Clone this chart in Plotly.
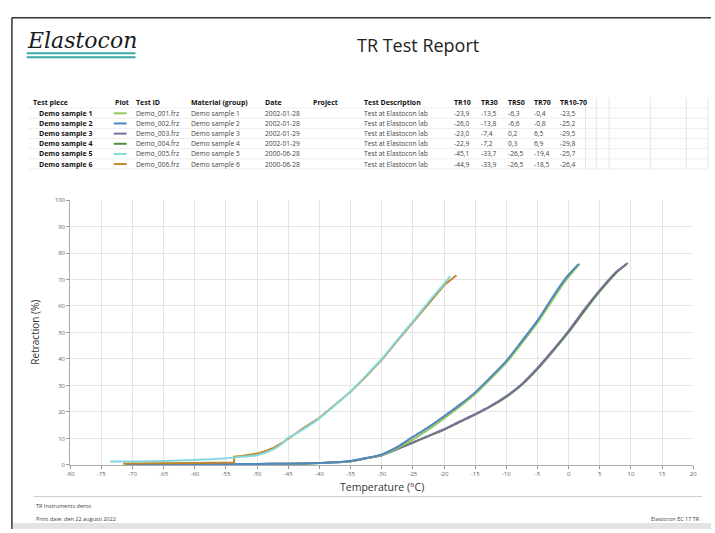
import plotly.graph_objects as go

W, H = 715, 533

# ---------------- data ----------------
sample_names = ["Demo sample 1", "Demo sample 2", "Demo sample 3",
                "Demo sample 4", "Demo sample 5", "Demo sample 6"]
test_ids = ["Demo_001.frz", "Demo_002.frz", "Demo_003.frz",
            "Demo_004.frz", "Demo_005.frz", "Demo_006.frz"]
materials = ["Demo sample 1", "Demo sample 2", "Demo sample 3",
             "Demo sample 4", "Demo sample 5", "Demo sample 6"]
dates = ["2002-01-28", "2002-01-28", "2002-01-29",
         "2002-01-29", "2000-06-28", "2000-06-28"]
descriptions = ["Test at Elastocon lab"] * 6
tr10 = ["-23,9", "-26,0", "-23,0", "-22,9", "-45,1", "-44,9"]
tr30 = ["-13,5", "-13,8", "-7,4", "-7,2", "-33,7", "-33,9"]
tr50 = ["-6,3", "-6,6", "0,2", "0,3", "-26,5", "-26,5"]
tr70 = ["-0,4", "-0,8", "6,5", "6,9", "-19,4", "-18,5"]
tr10_70 = ["-23,5", "-25,2", "-29,5", "-29,8", "-25,7", "-26,4"]

colors = ["#95c75a", "#4f86c6", "#7a6f9b", "#4b8f3c", "#86d8df", "#c0862a"]

T1 = [-71.4, -65, -60, -55, -50, -45, -40, -37.5, -35, -32.5, -30, -27.5, -25, -22.5,
      -20, -17.5, -15, -12.5, -10, -7.5, -5, -2.5, -1, 0, 1.8]
R1 = [0.4, 0.4, 0.4, 0.4, 0.4, 0.5, 0.7, 1.0, 1.4, 2.5, 3.8, 6.4, 9.6, 13.4,
      17.6, 22.0, 26.8, 32.5, 38.6, 46.0, 53.7, 62.6, 67.9, 71.0, 76.0]

T2 = [-71.0, -65, -60, -55, -50, -45, -40, -37.5, -35, -32.5, -30, -27.5, -25, -22.5,
      -20, -17.5, -15, -12.5, -10, -7.5, -5, -2.5, -1, 0, 1.6]
R2 = [0.4, 0.4, 0.4, 0.4, 0.4, 0.5, 0.7, 1.0, 1.5, 2.6, 4.0, 6.8, 10.6, 14.3,
      18.4, 22.7, 27.4, 33.2, 39.3, 46.8, 54.5, 63.6, 68.8, 71.8, 75.8]

T3 = [-71.0, -65, -60, -55, -50, -45, -40, -37.5, -35, -32.5, -30, -27.5, -25, -22.5,
      -20, -17.5, -15, -12.5, -10, -7.5, -5, -2.5, 0, 2.5, 5, 7.5, 9.3]
R3 = [0.4, 0.4, 0.4, 0.4, 0.4, 0.5, 0.7, 1.0, 1.4, 2.5, 3.7, 6.0, 8.5, 11.0,
      13.5, 16.4, 19.2, 22.3, 26.0, 30.6, 36.6, 43.4, 50.6, 58.6, 66.0, 72.6, 75.8]

T4 = [-71.4, -65, -60, -55, -50, -45, -40, -37.5, -35, -32.5, -30, -27.5, -25, -22.5,
      -20, -17.5, -15, -12.5, -10, -7.5, -5, -2.5, 0, 2.5, 5, 7.5, 9.5]
R4 = [0.4, 0.4, 0.4, 0.4, 0.4, 0.5, 0.7, 1.0, 1.4, 2.5, 3.7, 6.0, 8.4, 10.9,
      13.3, 16.2, 19.0, 22.1, 25.7, 30.3, 36.2, 43.0, 50.1, 58.0, 65.5, 72.2, 76.2]

T5 = [-73.6, -70, -65, -60, -57, -55, -52.5, -50, -47.5, -46, -45, -44, -42.5,
      -40, -37.5, -35, -32.5, -30, -27.5, -25, -22.5, -20, -19]
R5 = [1.3, 1.3, 1.5, 1.9, 2.2, 2.5, 3.1, 3.7, 5.8, 8.0, 10.3, 11.5, 13.6,
      17.6, 22.5, 27.8, 33.8, 40.0, 47.2, 54.2, 61.5, 68.4, 71.3]

T6 = [-71.5, -65, -60, -53.7, -53.7, -52.5, -51, -50, -48.5, -47.5, -46, -45, -43.5,
      -42.5, -40, -37.5, -35, -32.5, -30, -27.5, -25, -22.5, -20, -18]
R6 = [0.6, 0.6, 0.7, 0.9, 3.1, 3.4, 3.9, 4.3, 5.4, 6.3, 8.3, 10.0, 12.5,
      14.0, 17.8, 22.6, 27.6, 33.5, 39.7, 46.8, 53.8, 61.0, 67.8, 71.6]

x_ticks = list(range(-80, 21, 5))
x_tick_labels = [str(v) for v in x_ticks]
y_ticks = list(range(0, 101, 10))
y_tick_labels = [str(v) for v in y_ticks]

header = ["Test piece", "Plot", "Test ID", "Material (group)", "Date", "Project",
          "Test Description", "TR10", "TR30", "TR50", "TR70", "TR10-70"]

# ---------------- helpers ----------------
def X(px):
    return px / W

def Y(py):
    return 1 - py / H

FONT = "Open Sans"
TS = 7

fig = go.Figure()

series = [(T4, R4, 3, "spline"), (T3, R3, 2, "spline"), (T1, R1, 0, "spline"),
          (T2, R2, 1, "spline"), (T6, R6, 5, "linear"), (T5, R5, 4, "spline")]
for t, r, i, shp in series:
    line = dict(color=colors[i], width=2, shape=shp)
    if shp == "spline":
        line["smoothing"] = 0.6
    fig.add_trace(go.Scatter(x=t, y=r, mode="lines", name=sample_names[i],
                             line=line, showlegend=False))

pl, pr, pt, pb = 67, 697, 199, 468

fig.update_layout(
    width=W, height=H,
    margin=dict(l=0, r=0, t=0, b=0),
    paper_bgcolor="white", plot_bgcolor="white",
    font=dict(family=FONT, color="#333"),
    xaxis=dict(domain=[X(pl), X(pr)], range=[-80, 20], tickvals=x_ticks,
               ticktext=x_tick_labels, showgrid=True, gridcolor="#e4e4e4", gridwidth=1,
               zeroline=False, showline=True, linecolor="#aaa", linewidth=1,
               ticks="outside", ticklen=3, tickcolor="#999",
               tickfont=dict(size=6, color="#666", family=FONT)),
    yaxis=dict(domain=[Y(pb), Y(pt)], range=[0, 100], tickvals=y_ticks,
               ticktext=y_tick_labels, showgrid=True, gridcolor="#e4e4e4",
               gridwidth=1, zeroline=False, showline=True, linecolor="#aaa", linewidth=1,
               ticks="outside", ticklen=3, tickcolor="#999",
               tickfont=dict(size=6, color="#666", family=FONT)),
)

shapes = []
ann = []

# page frame
shapes.append(dict(type="line", xref="paper", yref="paper", x0=X(8), x1=X(715),
                   y0=Y(14), y1=Y(14), line=dict(color="#333", width=1.5)))
shapes.append(dict(type="line", xref="paper", yref="paper", x0=X(8), x1=X(8),
                   y0=Y(14), y1=Y(533), line=dict(color="#333", width=1.5)))
shapes.append(dict(type="rect", xref="paper", yref="paper", x0=X(9), x1=X(715),
                   y0=Y(527), y1=Y(533), line=dict(width=0), fillcolor="#e3e3e3"))

# logo
ann.append(dict(text="<i>Elastocon</i>", x=X(21), y=Y(37), xref="paper", yref="paper",
                xanchor="left", yanchor="middle", showarrow=False,
                font=dict(family="DejaVu Serif", size=22, color="#1a1a1a")))
for yy in (50, 54):
    shapes.append(dict(type="line", xref="paper", yref="paper", x0=X(23), x1=X(133),
                       y0=Y(yy), y1=Y(yy), line=dict(color="#3aa9a0", width=2)))

ann.append(dict(text="TR Test Report", x=X(419), y=Y(42), xref="paper", yref="paper",
                xanchor="center", yanchor="middle", showarrow=False,
                font=dict(family=FONT, size=18, color="#222")))

# table
col_x = [27, 110, 131, 187, 262, 310, 362, 453, 480, 508, 534, 560]
hy = 100
row_y = [111, 121.3, 131.6, 141.9, 152.2, 162.5]
for cx, h in zip(col_x, header):
    ann.append(dict(text="<b>" + h + "</b>", x=X(cx), y=Y(hy), xref="paper", yref="paper",
                    xanchor="left", yanchor="middle", showarrow=False,
                    font=dict(family=FONT, size=TS, color="#111")))
# faint table grid
for yy in [105.5, 116, 126.3, 136.6, 146.9, 157.2, 167.5]:
    shapes.append(dict(type="line", xref="paper", yref="paper", x0=X(25), x1=X(712),
                       y0=Y(yy), y1=Y(yy), line=dict(color="#eeeeee", width=1)))
for xx in [588, 599, 612, 654, 690, 712]:
    shapes.append(dict(type="line", xref="paper", yref="paper", x0=X(xx), x1=X(xx),
                       y0=Y(95), y1=Y(167.5), line=dict(color="#e6e6e6", width=1)))

for i in range(6):
    yy = row_y[i]
    ann.append(dict(text="<b>" + sample_names[i] + "</b>", x=X(33), y=Y(yy), xref="paper",
                    yref="paper", xanchor="left", yanchor="middle", showarrow=False,
                    font=dict(family=FONT, size=TS, color="#111")))
    shapes.append(dict(type="line", xref="paper", yref="paper", x0=X(111), x1=X(124),
                       y0=Y(yy), y1=Y(yy), line=dict(color=colors[i], width=2)))
    vals = [test_ids[i], materials[i], dates[i], "", descriptions[i],
            tr10[i], tr30[i], tr50[i], tr70[i], tr10_70[i]]
    for cx, v in zip(col_x[2:], vals):
        if v == "":
            continue
        ann.append(dict(text=v, x=X(cx), y=Y(yy), xref="paper", yref="paper",
                        xanchor="left", yanchor="middle", showarrow=False,
                        font=dict(family=FONT, size=TS - 0.3, color="#444")))

# axis titles
ann.append(dict(text="Retraction (%)", x=X(31), y=Y(333), xref="paper", yref="paper",
                xanchor="center", yanchor="middle", showarrow=False, textangle=-90,
                font=dict(family=FONT, size=10, color="#333")))
ann.append(dict(text="Temperature (°C)", x=X(382), y=Y(490), xref="paper", yref="paper",
                xanchor="center", yanchor="middle", showarrow=False,
                font=dict(family=FONT, size=10.5, color="#333")))

# footer
shapes.append(dict(type="line", xref="paper", yref="paper", x0=X(30), x1=X(706),
                   y0=Y(500), y1=Y(500), line=dict(color="#cfcfcf", width=1)))
ann.append(dict(text="TR Instruments demo", x=X(30), y=Y(510), xref="paper", yref="paper",
                xanchor="left", yanchor="middle", showarrow=False,
                font=dict(family=FONT, size=5.5, color="#444")))
ann.append(dict(text="Print date: den 22 augusti 2022", x=X(30), y=Y(523), xref="paper",
                yref="paper", xanchor="left", yanchor="middle", showarrow=False,
                font=dict(family=FONT, size=5.5, color="#444")))
ann.append(dict(text="Elastocon EC 17 TR", x=X(706), y=Y(523), xref="paper", yref="paper",
                xanchor="right", yanchor="middle", showarrow=False,
                font=dict(family=FONT, size=5.5, color="#444")))

fig.update_layout(shapes=shapes, annotations=ann)
fig.write_html("out.html", config={"displayModeBar": False},
               post_script="document.body.style.margin='0';document.body.style.overflow='hidden';")
